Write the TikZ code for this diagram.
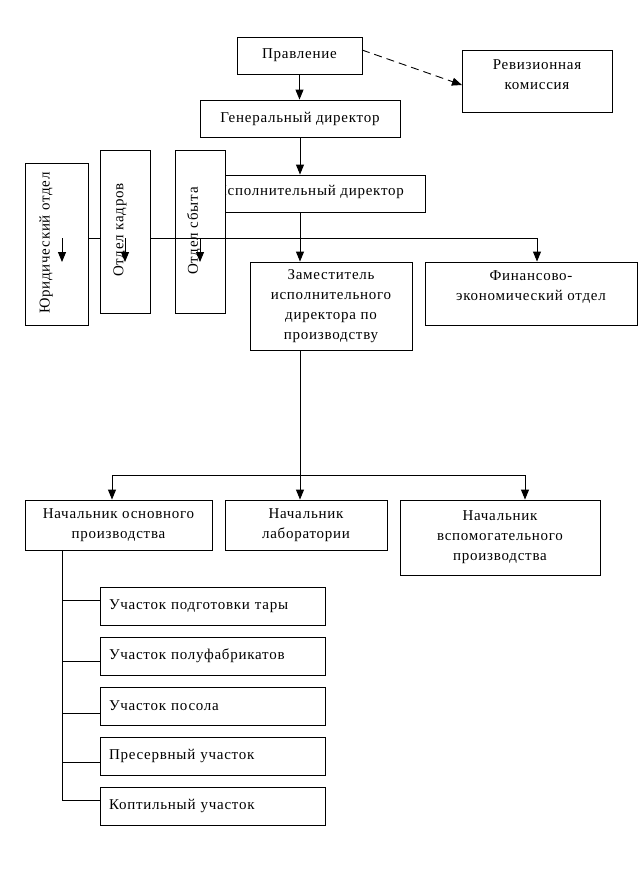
\documentclass[tikz,border=0pt]{standalone}
\usepackage{fontspec}
\setmainfont{Liberation Serif}[LetterSpace=5]
\usetikzlibrary{arrows.meta}
\begin{document}
\begin{tikzpicture}[x=1pt,y=-1pt,
  line width=0.9pt,
  every node/.style={font=\fontsize{15}{20}\selectfont},
  box/.style={draw, fill=white, inner sep=0pt, align=center},
  arr/.style={-{Triangle[length=10pt,width=8pt]}},
  dsh/.style={dash pattern=on 8pt off 5pt}]
\useasboundingbox (0,0) rectangle (638,875);
% top
\node[box, minimum width=125, minimum height=37] (prav) at (299.5,55.5) {Правление};
\node[box, minimum width=150, minimum height=62] (rev) at (537,81) {};
\node[align=center, inner sep=0pt] (revt) at (537,75) {Ревизионная\\комиссия};
\node[box, minimum width=200, minimum height=37] (gen) at (300,118.5) {Генеральный директор};
\node[box, minimum width=225, minimum height=37] (exec) at (312.5,193.5) {};
\node[inner sep=0pt] (exect) at (310,192) {Исполнительный директор};
% vertical departments
\node[box, minimum width=50, minimum height=163] (sbyt) at (200,231.5) {};
\node[rotate=90, inner sep=0pt] (sbytt) at (194,231) {Отдел сбыта};
\node[box, minimum width=63, minimum height=162] (yur) at (56.5,244) {};
\node[rotate=90, inner sep=0pt] (yurt) at (46,243) {Юридический отдел};
\node[box, minimum width=50, minimum height=163] (kadr) at (125,231.5) {};
\node[rotate=90, inner sep=0pt] (kadrt) at (120,230) {Отдел кадров};
% second level
\node[box, minimum width=162, minimum height=88] (dep) at (331,306) {Заместитель\\исполнительного\\директора по\\производству};
\node[box, minimum width=212, minimum height=63] (fin) at (531,293.5) {};
\node[align=center, inner sep=0pt] (fint) at (531,287) {Финансово-\\экономический отдел};
% third level
\node[box, minimum width=187, minimum height=50] (nos) at (118.5,525) {Начальник основного\\производства};
\node[box, minimum width=162, minimum height=50] (lab) at (306,525) {Начальник\\лаборатории};
\node[box, minimum width=200, minimum height=75] (vsp) at (500,537.5) {Начальник\\вспомогательного\\производства};
% sections
\foreach \i/\y/\t in {1/606/Участок подготовки тары,2/656/Участок полуфабрикатов,3/706/Участок посола,4/756/Пресервный участок,5/806/Коптильный участок}{
  \node[box, minimum width=225, minimum height=38, text width=207, align=left] (u\i) at (212.5,\y) {\t};
}
% coordinates
\coordinate (bus1) at (300,238);
\coordinate (b1) at (62,238);
\coordinate (b2) at (125,238);
\coordinate (b3) at (200,238);
\coordinate (b4) at (537,238);
\coordinate (e1) at (62,262);
\coordinate (e2) at (125,262);
\coordinate (e3) at (200,262);
\coordinate (bus2) at (300,475);
\coordinate (c1) at (112,475);
\coordinate (c2) at (525,475);
\coordinate (vt) at (62,550);
\coordinate (v1) at (62,600);
\coordinate (v2) at (62,661);
\coordinate (v3) at (62,713);
\coordinate (v4) at (62,762);
\coordinate (v5) at (62,800);
\coordinate (pr) at (362,50);
\coordinate (rv) at (462,85);
% connectors
\draw[arr] (prav.south) -- (prav.south |- gen.north);
\draw[arr] (gen.south) -- (gen.south |- exec.north);
\draw[arr, dsh] (pr) -- (rv);
\draw[arr] (bus1 |- exec.south) -- (bus1 |- dep.north);
\draw (yur.east |- bus1) -- (kadr.west |- bus1);
\draw (kadr.east |- bus1) -- (b4);
\draw[arr] (b4) -- (b4 |- fin.north);
\draw[arr] (b1) -- (e1);
\draw[arr] (b2) -- (e2);
\draw[arr] (b3) -- (e3);
\draw (bus1 |- dep.south) -- (bus2);
\draw (c1) -- (c2);
\draw[arr] (bus2) -- (bus2 |- lab.north);
\draw[arr] (c1) -- (c1 |- nos.north);
\draw[arr] (c2) -- (c2 |- vsp.north);
\draw (vt) -- (v5);
\draw (v1) -- (v1 -| u1.west);
\draw (v2) -- (v2 -| u2.west);
\draw (v3) -- (v3 -| u3.west);
\draw (v4) -- (v4 -| u4.west);
\draw (v5) -- (v5 -| u5.west);
\end{tikzpicture}
\end{document}
